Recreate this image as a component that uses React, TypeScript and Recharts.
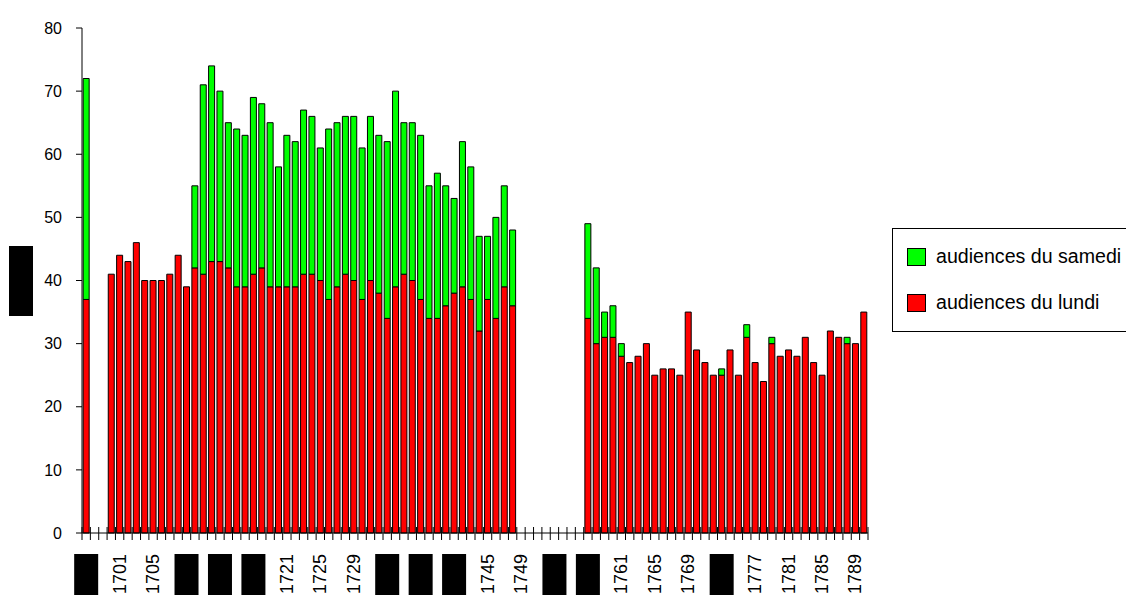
import { BarChart, Bar, XAxis, YAxis } from "recharts";

// one category per year, 1697 -> 1790
const YEARS = Array.from({ length: 94 }, (_, i) => 1697 + i);

// labels hidden behind black boxes in the original
const HIDDEN_YEARS = [1697, 1709, 1713, 1717, 1733, 1737, 1741, 1753, 1757, 1773];

const Y_TICKS = [0, 10, 20, 30, 40, 50, 60, 70, 80];

const lundi = [
  37, null, null, 41, 44, 43, 46, 40, 40, 40, 41, 44, 39,
  42, 41, 43, 43, 42, 39, 39, 41, 42, 39, 39, 39, 39, 41, 41, 40, 37, 39, 41, 40,
  37, 40, 38, 34, 39, 41, 40, 37, 34, 34, 36, 38, 39, 37, 32, 37, 34, 39, 36,
  null, null, null, null, null, null, null, null,
  34, 30, 31, 31, 28, 27, 28, 30, 25, 26, 26, 25, 35, 29, 27, 25, 25, 29, 25, 31,
  27, 24, 30, 28, 29, 28, 31, 27, 25, 32, 31, 30, 30, 35,
];

const samedi = [
  35, null, null, 0, 0, 0, 0, 0, 0, 0, 0, 0, 0,
  13, 30, 31, 27, 23, 25, 24, 28, 26, 26, 19, 24, 23, 26, 25, 21, 27, 26, 25, 26,
  24, 26, 25, 28, 31, 24, 25, 26, 21, 23, 19, 15, 23, 21, 15, 10, 16, 16, 12,
  null, null, null, null, null, null, null, null,
  15, 12, 4, 5, 2, 0, 0, 0, 0, 0, 0, 0, 0, 0, 0, 0, 1, 0, 0, 2,
  0, 0, 1, 0, 0, 0, 0, 0, 0, 0, 0, 1, 0, 0,
];

const SERIES = [
  { key: "samedi", name: "audiences du samedi", color: "#00FF00" },
  { key: "lundi", name: "audiences du lundi", color: "#FF0000" },
];

const data = YEARS.map((year, i) => ({
  year,
  lundi: lundi[i],
  samedi: samedi[i],
}));

const FONT = "'Liberation Sans', Arial, sans-serif";
const W = 1126;
const H = 595;
const MARGIN = { top: 28, right: 258, bottom: 0, left: 0 };
const Y_AXIS_W = 82;
const BAND = (W - MARGIN.right - Y_AXIS_W) / YEARS.length;

const XTick = (props: any) => {
  const { x, y, payload } = props;
  const year = Number(payload.value);
  const i = year - YEARS[0];
  const labelled = i % 4 === 0;
  return (
    <g>
      <line x1={x - BAND / 2} x2={x - BAND / 2} y1={y - 6} y2={y + 7} stroke="#000" />
      {i === YEARS.length - 1 && (
        <line x1={x + BAND / 2} x2={x + BAND / 2} y1={y - 6} y2={y + 7} stroke="#000" />
      )}
      {labelled &&
        (HIDDEN_YEARS.includes(year) ? (
          <rect x={x - 12} y={y + 21} width={24} height={50} fill="#000" />
        ) : (
          <text
            transform={`translate(${x + 6},${y + 21}) rotate(-90)`}
            textAnchor="end"
            fontSize={18}
            fontFamily={FONT}
            fill="#000"
          >
            {year}
          </text>
        ))}
    </g>
  );
};

export default function App() {
  return (
    <div
      style={{
        position: "absolute",
        left: 0,
        top: 0,
        width: W,
        height: H,
        overflow: "hidden",
        background: "#fff",
        fontFamily: FONT,
      }}
    >
      <BarChart width={W} height={H} data={data} margin={MARGIN} barCategoryGap="14%">
        <XAxis
          dataKey="year"
          interval={0}
          tickSize={0}
          tickMargin={0}
          height={62}
          axisLine={{ stroke: "#000" }}
          tick={<XTick />}
        />
        <YAxis
          width={Y_AXIS_W}
          domain={[0, 80]}
          ticks={Y_TICKS}
          tickSize={6}
          tickMargin={14}
          axisLine={{ stroke: "#000" }}
          tickLine={{ stroke: "#000" }}
          tick={{ fill: "#000", fontSize: 16, fontFamily: FONT }}
        />
        <Bar dataKey="lundi" stackId="a" fill="#FF0000" stroke="#000" strokeWidth={1} isAnimationActive={false} />
        <Bar dataKey="samedi" stackId="a" fill="#00FF00" stroke="#000" strokeWidth={1} isAnimationActive={false} />
      </BarChart>

      {/* axis title, blacked out in the original */}
      <div style={{ position: "absolute", left: 9, top: 246, width: 24, height: 70, background: "#000" }} />

      <div
        style={{
          position: "absolute",
          left: 892,
          top: 228,
          width: 250,
          height: 104,
          border: "1px solid #000",
          boxSizing: "border-box",
        }}
      >
        {SERIES.map((s, i) => (
          <div
            key={s.key}
            style={{
              position: "absolute",
              left: 14,
              top: 16 + i * 46,
              display: "flex",
              alignItems: "center",
              fontSize: 19.6,
              color: "#000",
              whiteSpace: "nowrap",
            }}
          >
            <span
              style={{
                display: "inline-block",
                width: 17,
                height: 16,
                background: s.color,
                border: "1px solid #000",
                marginRight: 10,
              }}
            />
            {s.name}
          </div>
        ))}
      </div>
    </div>
  );
}
